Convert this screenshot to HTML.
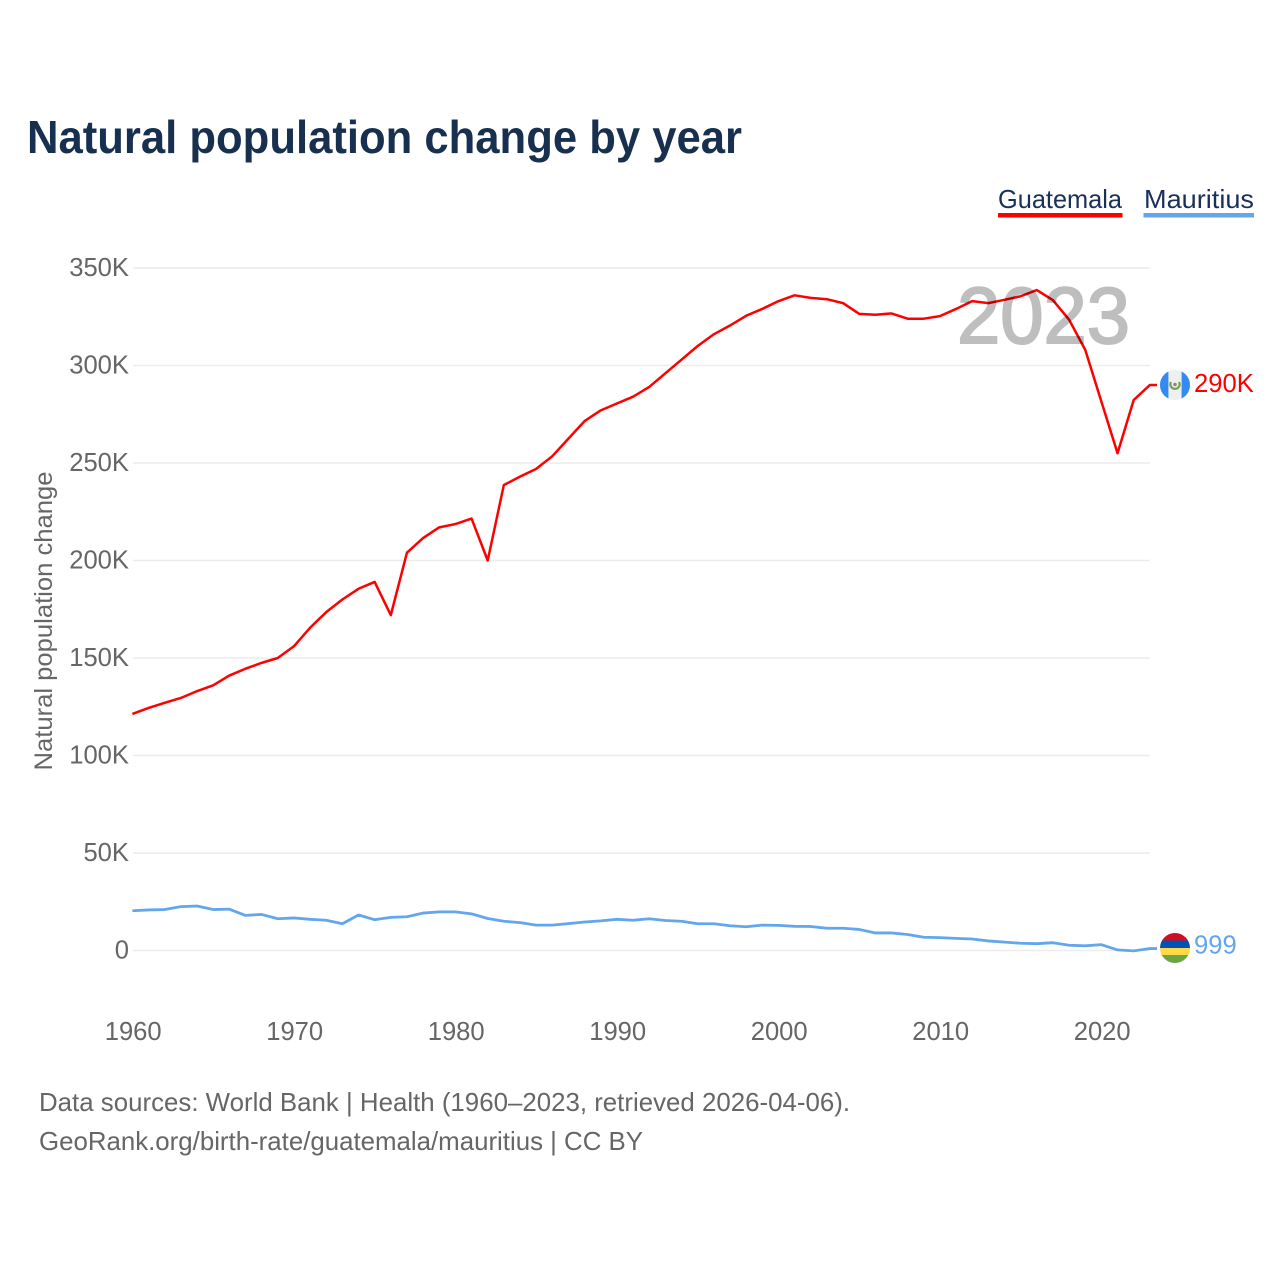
<!DOCTYPE html>
<html lang="en">
<head>
<meta charset="utf-8">
<title>Natural population change by year</title>
<style>
html,body{margin:0;padding:0;background:#fff;width:1280px;height:1280px;overflow:hidden}
svg{display:block;font-family:"Liberation Sans",sans-serif}
</style>
</head>
<body>
<svg id="chart" xmlns="http://www.w3.org/2000/svg" width="1280" height="1280" viewBox="0 0 1280 1280">
  <defs>
    <clipPath id="clip-gt"><circle cx="1175" cy="385" r="15"/></clipPath>
    <clipPath id="clip-mu"><circle cx="1175" cy="948" r="15"/></clipPath>
  </defs>
  <rect width="1280" height="1280" fill="#fff"/>
  <text x="27" y="153" font-size="46" font-weight="700" fill="#18304f" textLength="715" lengthAdjust="spacingAndGlyphs">Natural population change by year</text>

  <g>
    <g>
      <text x="998" y="208" font-size="26" fill="#18305a" textLength="124" lengthAdjust="spacingAndGlyphs">Guatemala</text>
      <rect x="998" y="213" width="124.5" height="4.5" fill="#ff0000"/>
    </g>
    <g>
      <text x="1144" y="208" font-size="26" fill="#18305a" textLength="110" lengthAdjust="spacingAndGlyphs">Mauritius</text>
      <rect x="1143.5" y="213" width="110.5" height="4.5" fill="#63a6ec"/>
    </g>
  </g>

  <g id="grid"></g>
  <g id="y-ticks"></g>
  <g id="x-ticks"></g>
  <text transform="translate(52 621) rotate(-90)" text-anchor="middle" font-size="25" fill="#666" textLength="299" lengthAdjust="spacingAndGlyphs">Natural population change</text>

  <g id="series"></g>

  <g clip-path="url(#clip-gt)">
    <rect x="1160" y="370" width="30" height="30" fill="#eef0f0"/>
    <rect x="1160" y="370" width="8.4" height="30" fill="#338af3"/>
    <rect x="1181.6" y="370" width="8.4" height="30" fill="#338af3"/>
    <path d="M1171 382 A4.6 4.6 0 1 0 1179 382" fill="none" stroke="#7a9e50" stroke-width="2.2"/>
    <circle cx="1175" cy="384.5" r="1.8" fill="#8a8a78"/>
  </g>
  <g clip-path="url(#clip-mu)">
    <rect x="1160" y="933" width="30" height="8" fill="#d20f22"/>
    <rect x="1160" y="940.5" width="30" height="8" fill="#0052b4"/>
    <rect x="1160" y="948" width="30" height="7.5" fill="#ffda44"/>
    <rect x="1160" y="955" width="30" height="8" fill="#6da544"/>
  </g>
  <text x="1194" y="392" font-size="25.6" fill="#ff0000">290K</text>
  <text x="1194" y="953.5" font-size="25.6" fill="#63a6ec">999</text>

  <text x="1130" y="343" text-anchor="end" font-size="80" font-weight="400" fill="#000" stroke="#000" stroke-width="2" opacity="0.25" textLength="173" lengthAdjust="spacingAndGlyphs">2023</text>

  <g>
    <text x="39" y="1111" font-size="26" fill="#666" textLength="811" lengthAdjust="spacingAndGlyphs">Data sources: World Bank | Health (1960–2023, retrieved 2026-04-06).</text>
    <text x="39" y="1150" font-size="26" fill="#666" textLength="604" lengthAdjust="spacingAndGlyphs">GeoRank.org/birth-rate/guatemala/mauritius | CC BY</text>
  </g>
</svg>
<script>
const startYear = 1960;
const guatemala = [121.3,124.4,127,129.5,133,136,141,144.5,147.5,150,156,165.5,173.5,180,185.5,189,172,204,211.5,217,218.7,221.5,200,238.7,243,247,253.5,262.5,271.5,277,280.5,284,289,296,303,310,316,320.5,325.5,329,333,336,334.7,334,332,326.5,326,326.7,324,324,325.3,329,333,332,333.7,335.5,338.7,333.5,323.5,308,281.5,255,282.3,290];
const mauritius = [20.4,20.8,21,22.5,22.8,21,21.2,18,18.5,16.3,16.7,16,15.5,13.7,18.2,15.8,17,17.3,19.2,19.8,19.8,18.8,16.4,15,14.3,13,13,13.8,14.6,15.2,16,15.5,16.3,15.4,15,13.7,13.7,12.7,12.2,13,12.9,12.4,12.3,11.4,11.4,10.8,9,9,8.2,6.8,6.6,6.2,5.9,4.9,4.3,3.7,3.5,4,2.7,2.4,3,0.3,-0.2,1];
const yTickValues = [0,50,100,150,200,250,300,350];
const yTickLabels = ["0","50K","100K","150K","200K","250K","300K","350K"];
const xTickYears = [1960,1970,1980,1990,2000,2010,2020];

const NS = "http://www.w3.org/2000/svg";
function xScale(year){ return 132.4 + (year - 1960) * 16.15; }
function yScale(v){ return 950.5 - v * 1.95; }
function make(tag, attrs, parent, text){
  const el = document.createElementNS(NS, tag);
  for (const k in attrs) el.setAttribute(k, attrs[k]);
  if (text !== undefined) el.textContent = text;
  parent.appendChild(el);
  return el;
}

const grid = document.getElementById("grid");
const yTicks = document.getElementById("y-ticks");
const xTicks = document.getElementById("x-ticks");
const seriesGroup = document.getElementById("series");

yTickValues.forEach(function(v, i){
  const y = yScale(v);
  const line = make("line", {x1:133, x2:1150, y1:y, y2:y, stroke:"#ececec", "stroke-width":1.5}, grid);
  
  
  const label = make("text", {x:129, y:y + 8, "text-anchor":"end", "font-size":25.6, fill:"#666"}, yTicks, yTickLabels[i]);
  
  
});

xTickYears.forEach(function(year){
  const label = make("text", {x:xScale(year) + 0.8, y:1040, "text-anchor":"middle", "font-size":25.6, fill:"#666"}, xTicks, String(year));
  
  
});

function linePath(values){
  let d = values.map(function(v, i){
    return (i ? "L" : "M") + xScale(startYear + i).toFixed(2) + " " + yScale(v).toFixed(2);
  }).join(" ");
  return d + " H1157";
}

const gtLine = make("path", {d:linePath(guatemala), fill:"none", stroke:"#ff0000", "stroke-width":2.5, "stroke-linejoin":"round"}, seriesGroup);



const muLine = make("path", {d:linePath(mauritius), fill:"none", stroke:"#63a6ec", "stroke-width":2.8, "stroke-linejoin":"round"}, seriesGroup);


</script>
</body>
</html>
